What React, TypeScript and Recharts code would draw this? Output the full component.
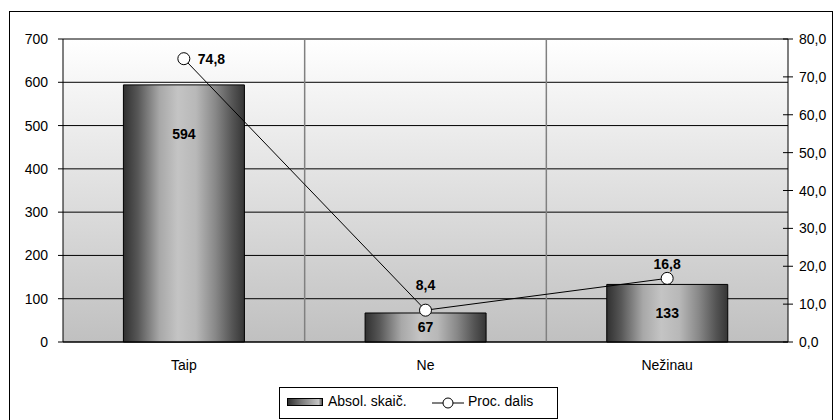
import {
  ComposedChart,
  Bar,
  Line,
  XAxis,
  YAxis,
  CartesianGrid,
  LabelList,
} from "recharts";

const categories = ["Taip", "Ne", "Nežinau"];
const absoluteCounts = [594, 67, 133];
const percentShares = [74.8, 8.4, 16.8];
const leftTicks = [0, 100, 200, 300, 400, 500, 600, 700];
const rightTicks = [0, 10, 20, 30, 40, 50, 60, 70, 80];

const data = categories.map((name, i) => ({
  name,
  abs: absoluteCounts[i],
  pct: percentShares[i],
}));

const FONT = '"Liberation Sans", Arial, sans-serif';
const fmtComma = (v: number) => v.toFixed(1).replace(".", ",");

// where each percent label sits relative to its marker
const LINE_LABEL_DY = [0, 25, 14];

const BarLabel = (props: any) => {
  const { x, y, width, height, value } = props;
  const dy = Math.min(height / 2, 49);
  return (
    <text
      x={x + width / 2}
      y={y + dy}
      textAnchor="middle"
      dominantBaseline="central"
      fontFamily={FONT}
      fontSize={14}
      fontWeight="bold"
      fill="#000"
    >
      {value}
    </text>
  );
};

const LineLabel = (props: any) => {
  const { x, y, value, index } = props;
  if (index === 0) {
    return (
      <text
        x={x + 14}
        y={y}
        textAnchor="start"
        dominantBaseline="central"
        fontFamily={FONT}
        fontSize={14}
        fontWeight="bold"
        fill="#000"
      >
        {fmtComma(value)}
      </text>
    );
  }
  return (
    <text
      x={x}
      y={y - LINE_LABEL_DY[index]}
      textAnchor="middle"
      dominantBaseline="central"
      fontFamily={FONT}
      fontSize={14}
      fontWeight="bold"
      fill="#000"
    >
      {fmtComma(value)}
    </text>
  );
};

const RightTick = (props: any) => {
  const { x, y, payload } = props;
  const axisX = x - 11;
  return (
    <g>
      <line x1={axisX - 5} x2={axisX} y1={y} y2={y} stroke="#000" />
      <text
        x={x}
        y={y}
        textAnchor="start"
        dominantBaseline="central"
        fontFamily={FONT}
        fontSize={14}
        fill="#000"
      >
        {fmtComma(payload.value)}
      </text>
    </g>
  );
};

const App = () => {
  return (
    <div
      style={{
        position: "absolute",
        left: 0,
        top: 0,
        width: 835,
        height: 420,
        overflow: "hidden",
        background: "#fff",
        fontFamily: FONT,
      }}
    >
      <div
        style={{
          position: "absolute",
          left: 9,
          top: 11,
          width: 822,
          height: 420,
          border: "1px solid #000",
        }}
      />
      <div style={{ position: "absolute", left: 0, top: 0 }}>
        <ComposedChart
          width={835}
          height={420}
          data={data}
          margin={{ top: 39, right: 0, left: 0, bottom: 48 }}
          barCategoryGap="25%"
        >
          <defs>
            <linearGradient id="plotBg" x1="0" y1="0" x2="0" y2="1">
              <stop offset="0%" stopColor="#ffffff" />
              <stop offset="100%" stopColor="#c0c0c0" />
            </linearGradient>
            <linearGradient id="barGrad" x1="0" y1="0" x2="1" y2="0">
              <stop offset="0%" stopColor="#303030" />
              <stop offset="12%" stopColor="#575757" />
              <stop offset="30%" stopColor="#a8a8a8" />
              <stop offset="45%" stopColor="#c4c4c4" />
              <stop offset="60%" stopColor="#b8b8b8" />
              <stop offset="76%" stopColor="#888888" />
              <stop offset="90%" stopColor="#555555" />
              <stop offset="100%" stopColor="#353535" />
            </linearGradient>
          </defs>
          <CartesianGrid
            yAxisId="left"
            vertical={false}
            stroke="#000"
            fill="url(#plotBg)"
            fillOpacity={1}
          />
          <CartesianGrid
            yAxisId="left"
            horizontal={false}
            stroke="#808080"
            strokeWidth={1.5}
            verticalCoordinatesGenerator={({ offset }: any) =>
              categories.slice(1).map(
                (_, i) => offset.left + (offset.width * (i + 1)) / categories.length
              )
            }
          />
          <XAxis
            dataKey="name"
            tickLine={false}
            tickSize={0}
            tickMargin={18}
            height={30}
            axisLine={{ stroke: "#000" }}
            tick={{ fill: "#000", fontSize: 14, fontFamily: FONT }}
          />
          <YAxis
            yAxisId="left"
            orientation="left"
            width={63}
            domain={[0, 700]}
            ticks={leftTicks}
            interval={0}
            tickSize={5}
            tickMargin={10}
            axisLine={{ stroke: "#000" }}
            tickLine={{ stroke: "#000" }}
            tick={{ fill: "#000", fontSize: 14, fontFamily: FONT }}
          />
          <YAxis
            yAxisId="right"
            orientation="right"
            width={47}
            domain={[0, 80]}
            ticks={rightTicks}
            interval={0}
            tickSize={5}
            tickMargin={6}
            axisLine={{ stroke: "#000" }}
            tickLine={{ stroke: "#000" }}
            tick={<RightTick />}
          />
          <Bar
            yAxisId="left"
            dataKey="abs"
            fill="url(#barGrad)"
            stroke="#000"
            strokeWidth={1}
            isAnimationActive={false}
          >
            <LabelList dataKey="abs" content={<BarLabel />} />
          </Bar>
          <Line
            yAxisId="right"
            type="linear"
            dataKey="pct"
            stroke="#000"
            strokeWidth={1}
            dot={{ r: 6, fill: "#fff", stroke: "#000", strokeWidth: 1 }}
            activeDot={false}
            isAnimationActive={false}
          >
            <LabelList dataKey="pct" content={<LineLabel />} />
          </Line>
        </ComposedChart>
      </div>
      <div
        style={{
          position: "absolute",
          left: 279,
          top: 387,
          width: 277,
          height: 30,
          border: "1px solid #000",
          background: "#fff",
          fontSize: 14,
          color: "#000",
        }}
      >
        <div
          style={{
            position: "absolute",
            left: 7,
            top: 10,
            width: 34,
            height: 6,
            border: "1px solid #000",
            background:
              "linear-gradient(to right, #303030 0%, #7a7a7a 40%, #c4c4c4 90%, #555 100%)",
          }}
        />
        <span style={{ position: "absolute", left: 48, top: 5 }}>Absol. skaič.</span>
        <svg
          style={{ position: "absolute", left: 152, top: 6 }}
          width={32}
          height={18}
        >
          <line x1={0} x2={32} y1={9} y2={9} stroke="#000" />
          <circle cx={16} cy={9} r={5} fill="#fff" stroke="#000" />
        </svg>
        <span style={{ position: "absolute", left: 188, top: 5 }}>Proc. dalis</span>
      </div>
    </div>
  );
};

export default App;
